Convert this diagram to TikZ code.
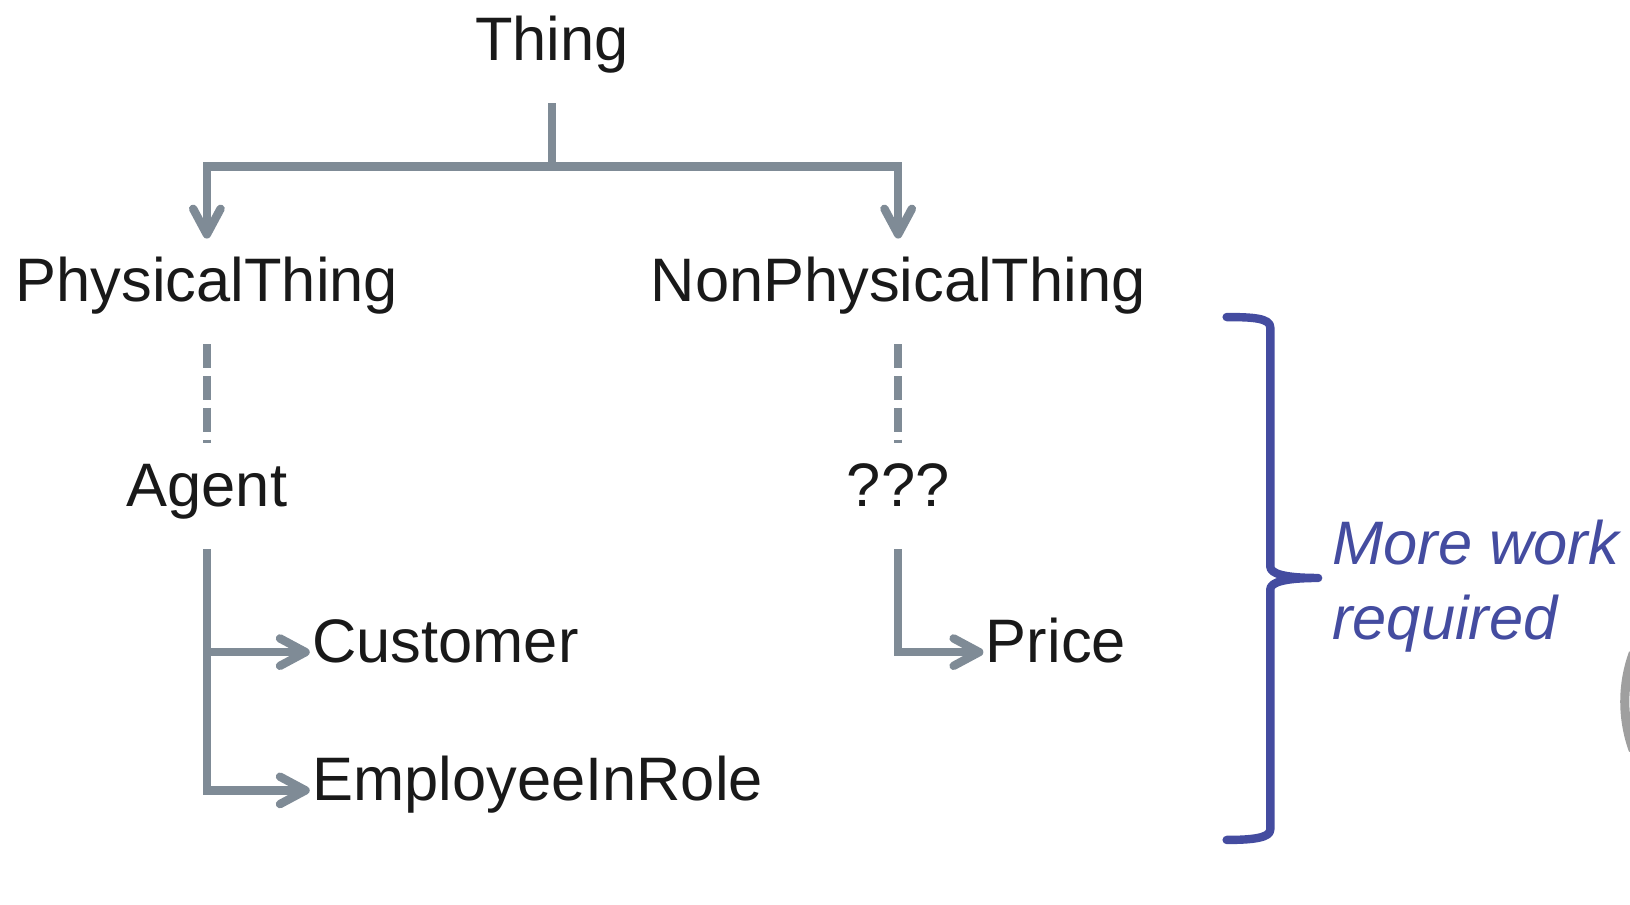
\documentclass[tikz,border=0pt]{standalone}
\usepackage{fontspec}
\setmainfont{Liberation Sans}
\usetikzlibrary{arrows.meta}

\definecolor{linegrey}{HTML}{7F8B96}
\definecolor{noteblue}{HTML}{444CA0}

\begin{document}
\begin{tikzpicture}[x=0.01cm,y=-0.01cm,
        term/.style={font=\fontsize{16.8}{20}\selectfont, text=black!90, inner xsep=0.5pt, inner ysep=6pt, text height=11pt, text depth=5.5pt},
        link/.style={draw=linegrey, line width=2.3pt},
        sub/.style={link, -{Straight Barb[length=7pt,width=7.5pt,round]}},
        guess/.style={link, dash pattern=on 6.5pt off 2.2pt}]
                \useasboundingbox (0,0) rectangle (1568,870);

                \node[term,anchor=base] (thing) at (531,58) {Thing};
                \node[term,anchor=base] (physical) at (199,290) {PhysicalThing};
                \node[term,anchor=base] (nonphysical) at (864,290) {NonPhysicalThing};
                \node[term,anchor=base] (agent) at (199,487) {Agent};
                \node[term,anchor=base] (unknown) at (864,487) {???};
                \node[term,anchor=base west] (customer) at (298,637) {Customer};
                \node[term,anchor=base west] (employee) at (298,770) {EmployeeInRole};
                \node[term,anchor=base west] (price) at (946,637) {Price};
                \coordinate (split) at (531,160);

                \path[link] (thing.south) -- (split);
                \path[sub] (split) -| (physical.north);
                \path[sub] (split) -| (nonphysical.north);
                \path[guess] (physical.south) -- (agent.north);
                \path[guess] (nonphysical.south) -- (unknown.north);
                \path[sub] (agent.south) |- (customer.west);
                \path[sub] (agent.south) |- (employee.west);
                \path[sub] (unknown.south) |- (price.west);

                % brace and note
                \node[font=\fontsize{16.8}{20.5}\selectfont\itshape, text=noteblue, align=left, anchor=west, inner sep=0pt] (note) at (1281,564) {More work\\required};
                \draw[noteblue, line width=2.3pt, line cap=round, line join=round]
                    (1180,305) .. controls (1205,305) and (1222,306) .. (1222,315) -- (1222,545)
                    .. controls (1222,552) and (1236,556) .. (1268,556)
                    .. controls (1236,556) and (1222,560) .. (1222,567) -- (1222,798)
                    .. controls (1222,806) and (1205,808) .. (1180,808);

                \draw[gray!75, line width=2.5pt] (1700,675) ++(160:137) arc[start angle=160, end angle=200, radius=137];
            \end{tikzpicture}
\end{document}
